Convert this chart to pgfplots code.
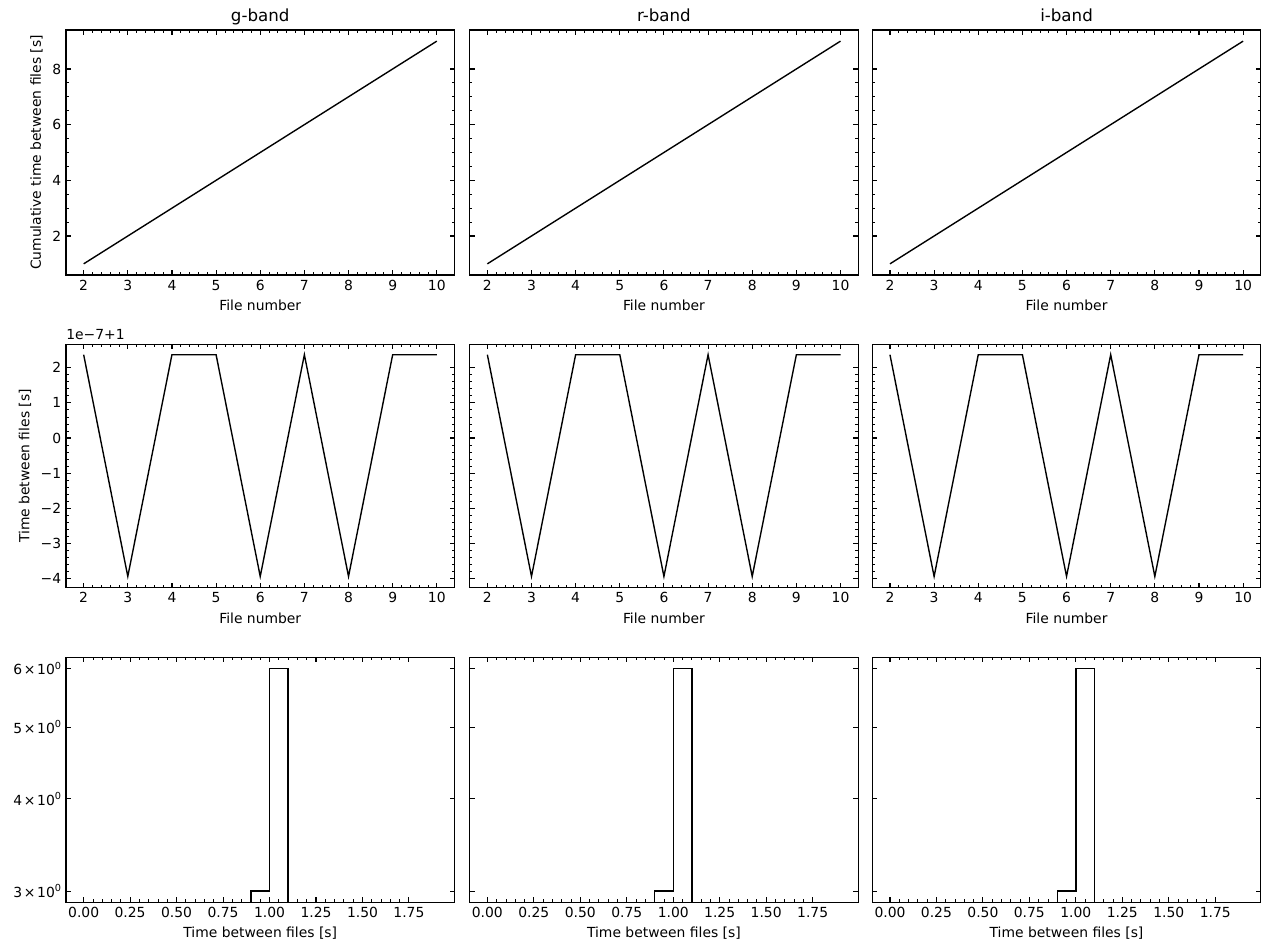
\documentclass[border=0pt]{standalone}
\usepackage{fontspec}
\setmainfont{DejaVu Sans}
\usepackage{pgfplots}
\pgfplotsset{compat=1.18}
\newcommand{\tn}[1]{#1\hspace{0.12em}×\hspace{0.12em}10\raisebox{0.75ex}{\fontsize{7}{8}\selectfont 0}}
\pgfplotsset{
  base/.style={
    scale only axis, width=279.7pt, anchor=north west,
    tick align=inside, xtick pos=both, ytick pos=both,
    axis line style={line width=0.8pt, black},
    major tick length=3.5pt, minor tick length=2pt,
    major tick style={line width=0.8pt, black},
    minor tick style={line width=0.6pt, black},
    tick label style={font=\fontsize{10}{12}\selectfont},
    label style={font=\fontsize{10}{12}\selectfont},
    /pgf/number format/assume math mode=true,
    title style={font=\fontsize{12}{14.4}\selectfont, at={(0.5,1)}, anchor=base, yshift=0pt},
    xlabel style={yshift=0pt},
  },
  rowa/.style={base, height=176.4pt, xmin=1.6, xmax=10.4, ymin=0.6, ymax=9.4,
    xtick={2,3,...,10}, minor x tick num=4, ytick={2,4,6,8}, minor y tick num=3,
    xlabel={File number}},
  rowb/.style={base, height=174.96pt, xmin=1.6, xmax=10.4, ymin=-4.25, ymax=2.66,
    xtick={2,3,...,10}, minor x tick num=4, ytick={-4,-3,-2,-1,0,1,2},
    yticklabels={−4,−3,−2,−1,0,1,2}, minor y tick num=4,
    xlabel={File number}},
  offs/.style={after end axis/.code={\node[anchor=south west, inner sep=0pt, yshift=3pt, font=\fontsize{10}{12}\selectfont] at (rel axis cs:0,1) {1e−7+1};}},
  rowc/.style={base, height=176.2pt, xmin=-0.095, xmax=1.995, ymin=2.898, ymax=6.21,
    xtick={0,0.25,...,1.75}, minor x tick num=4,
    xticklabels={0.00,0.25,0.50,0.75,1.00,1.25,1.50,1.75},
    ytick={3,4,5,6}, yminorticks=false,
    yticklabels={\tn{3},\tn{4},\tn{5},\tn{6}},
    xlabel={Time between files [s]}},
  noy/.style={yticklabels={}},
}
\begin{document}
\begin{tikzpicture}
\path[use as bounding box] (0,0) rectangle (913.68pt,-684pt);
% row 1
\begin{axis}[rowa, at={(47.52pt,-21.6pt)}, title={g-band}, ylabel={Cumulative time between files [s]}]
\addplot[black, line width=1pt] coordinates {(2,1)(3,2)(4,3)(5,4)(6,5)(7,6)(8,7)(9,8)(10,9)};
\end{axis}
\begin{axis}[rowa, noy, at={(338.18pt,-21.6pt)}, title={r-band}]
\addplot[black, line width=1pt] coordinates {(2,1)(3,2)(4,3)(5,4)(6,5)(7,6)(8,7)(9,8)(10,9)};
\end{axis}
\begin{axis}[rowa, noy, at={(628.06pt,-21.6pt)}, title={i-band}]
\addplot[black, line width=1pt] coordinates {(2,1)(3,2)(4,3)(5,4)(6,5)(7,6)(8,7)(9,8)(10,9)};
\end{axis}
% row 2
\begin{axis}[rowb, offs, at={(47.52pt,-248.04pt)}, ylabel={Time between files [s]}]
\addplot[black, line width=1pt] coordinates {(2,2.37)(3,-3.935)(4,2.37)(5,2.37)(6,-3.935)(7,2.37)(8,-3.935)(9,2.37)(10,2.37)};
\end{axis}
\begin{axis}[rowb, noy, at={(338.18pt,-248.04pt)}]
\addplot[black, line width=1pt] coordinates {(2,2.37)(3,-3.935)(4,2.37)(5,2.37)(6,-3.935)(7,2.37)(8,-3.935)(9,2.37)(10,2.37)};
\end{axis}
\begin{axis}[rowb, noy, at={(628.06pt,-248.04pt)}]
\addplot[black, line width=1pt] coordinates {(2,2.37)(3,-3.935)(4,2.37)(5,2.37)(6,-3.935)(7,2.37)(8,-3.935)(9,2.37)(10,2.37)};
\end{axis}
% row 3
\begin{semilogyaxis}[rowc, at={(47.52pt,-473.4pt)}]
\addplot[black, line width=1pt] coordinates {(0.9,2.5)(0.9,3)(1.0,3)(1.0,6)(1.1,6)(1.1,2.5)};
\end{semilogyaxis}
\begin{semilogyaxis}[rowc, noy, at={(338.18pt,-473.4pt)}]
\addplot[black, line width=1pt] coordinates {(0.9,2.5)(0.9,3)(1.0,3)(1.0,6)(1.1,6)(1.1,2.5)};
\end{semilogyaxis}
\begin{semilogyaxis}[rowc, noy, at={(628.06pt,-473.4pt)}]
\addplot[black, line width=1pt] coordinates {(0.9,2.5)(0.9,3)(1.0,3)(1.0,6)(1.1,6)(1.1,2.5)};
\end{semilogyaxis}
\end{tikzpicture}
\end{document}
